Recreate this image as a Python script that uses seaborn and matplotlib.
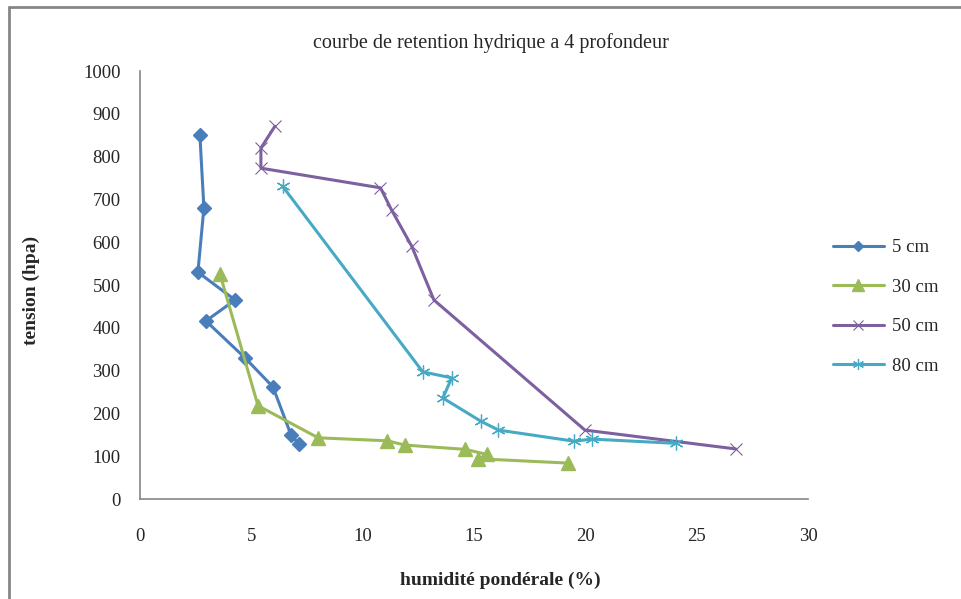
import matplotlib
matplotlib.use("Agg")
import matplotlib.pyplot as plt
from matplotlib.lines import Line2D
import seaborn as sns
import pandas as pd

# ---- data ----
x_5cm = [2.69, 2.87, 2.60, 4.27, 2.96, 4.71, 5.97, 6.78, 7.14]
y_5cm = [850, 680, 530, 465, 416, 330, 262, 150, 128]

x_30cm = [3.59, 5.30, 8.00, 11.10, 11.90, 14.60, 15.60, 15.20, 19.20]
y_30cm = [526, 218, 143, 136, 126, 116, 104, 94, 84]

x_50cm = [6.06, 5.43, 5.43, 10.80, 11.30, 12.20, 13.20, 19.98, 26.75]
y_50cm = [871, 820, 773, 727, 675, 591, 465, 161, 117]

x_80cm = [6.40, 12.70, 14.00, 13.60, 15.30, 16.10, 19.50, 20.30, 24.07]
y_80cm = [731, 297, 283, 236, 182, 161, 135, 140, 130]

series_names = ["5 cm", "30 cm", "50 cm", "80 cm"]
title = "courbe de retention hydrique a 4 profondeur"
xlabel = "humidité pondérale (%)"
ylabel = "tension (hpa)"
x_ticks = [0, 5, 10, 15, 20, 25, 30]
y_ticks = [0, 100, 200, 300, 400, 500, 600, 700, 800, 900, 1000]

colors = ["#4A7EBB", "#9BBB59", "#7D60A0", "#46AAC5"]
markers = ["D", "^", "x", (6, 2, 0)]
msizes = [7, 10, 9, 10]
mews = [1.0, 1.0, 0.8, 0.9]

sns.set_theme(style="white")
plt.rcParams["font.family"] = ["Liberation Serif", "DejaVu Serif"]

fig = plt.figure(figsize=(9.61, 5.99), dpi=100)
ax = fig.add_axes([140 / 961, 1 - 499 / 599, (808 - 140) / 961, (499 - 71) / 599])

xs = [x_5cm, x_30cm, x_50cm, x_80cm]
ys = [y_5cm, y_30cm, y_50cm, y_80cm]
handles = []
for name, xv, yv, c, m, ms, mew in zip(series_names, xs, ys, colors, markers, msizes, mews):
    df = pd.DataFrame({"x": xv, "y": yv})
    sns.lineplot(data=df, x="x", y="y", sort=False, estimator=None, ax=ax,
                 color=c, linewidth=2.2, marker=m, markersize=ms,
                 markeredgecolor=c, markerfacecolor=c, markeredgewidth=mew)
    handles.append(Line2D([0], [0], color=c, linewidth=2.2, marker=m,
                          markersize=ms * 0.8, markeredgecolor=c,
                          markerfacecolor=c, markeredgewidth=mew))

ax.set_xlim(0, 30)
ax.set_ylim(0, 1000)
ax.set_xticks(x_ticks)
ax.set_yticks(y_ticks)
ax.set_xticklabels([str(t) for t in x_ticks])
ax.set_yticklabels([str(t) for t in y_ticks])
ax.tick_params(axis="both", which="major", direction="out", length=5,
               width=1, color="#868686", labelsize=13.5)
ax.tick_params(axis="y", pad=9)
ax.tick_params(axis="x", pad=16)
for s in ["top", "right"]:
    ax.spines[s].set_visible(False)
for s in ["left", "bottom"]:
    ax.spines[s].set_color("#868686")
    ax.spines[s].set_linewidth(1.2)

ax.set_xlabel(xlabel, fontsize=14, fontweight="bold")
ax.set_ylabel(ylabel, fontsize=14, fontweight="bold")
ax.xaxis.set_label_coords((500 - 140) / (808 - 140), -(580 - 499) / (499 - 71))
ax.yaxis.set_label_coords(-(140 - 31) / (808 - 140), (499 - 290) / (499 - 71))
ax.xaxis.label.set_va("center")
ax.yaxis.label.set_va("center")

fig.text((284 + 697) / 2 / 961, 1 - 43 / 599, title, ha="center", va="center",
         fontsize=14.5)

leg = ax.legend(handles, series_names, loc="center left",
                bbox_to_anchor=(816 / 961, 1 - 307 / 599),
                bbox_transform=fig.transFigure, frameon=False,
                fontsize=13.5, handlelength=2.7, labelspacing=1.2,
                handletextpad=0.45)

# outer chart border (left and top)
fig.add_artist(Line2D([9 / 961, 9 / 961], [0, 1 - 7 / 599], color="#868686",
                      linewidth=2, transform=fig.transFigure))
fig.add_artist(Line2D([9 / 961, 1], [1 - 7 / 599, 1 - 7 / 599], color="#868686",
                      linewidth=2, transform=fig.transFigure))

fig.savefig("out.png", dpi=100)
